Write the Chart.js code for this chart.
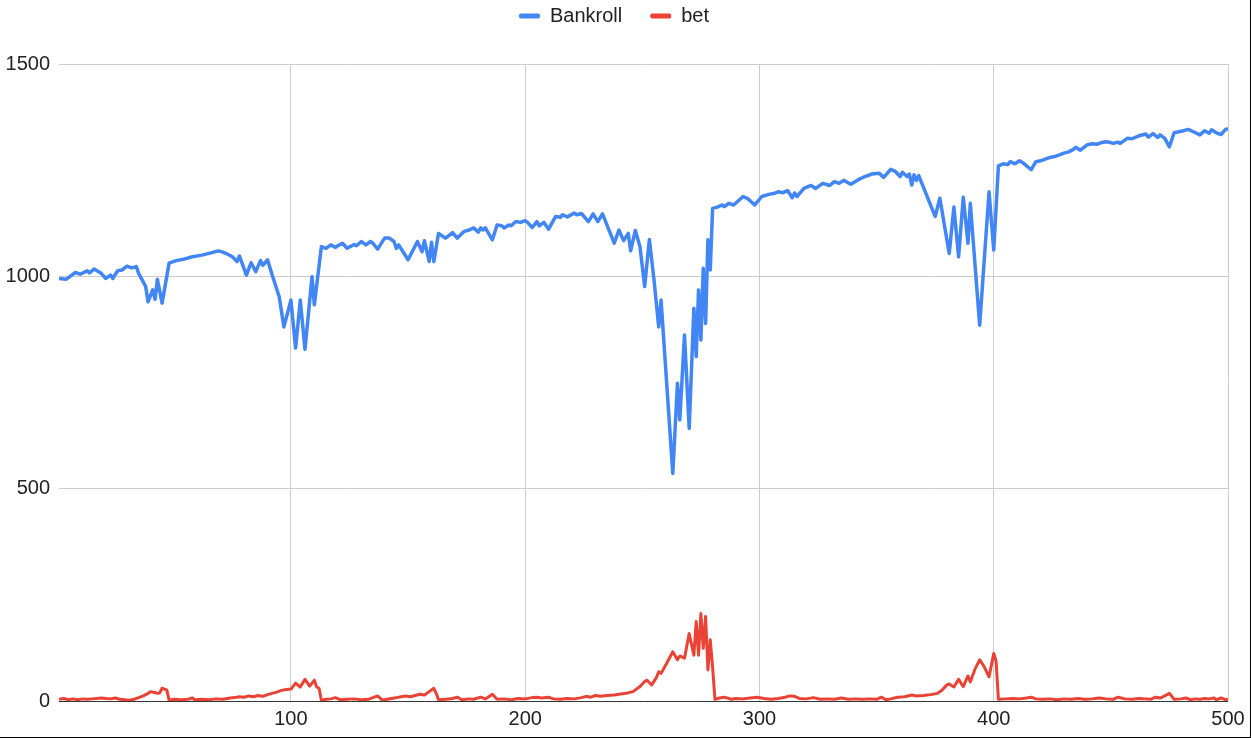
<!DOCTYPE html>
<html>
<head>
<meta charset="utf-8">
<script src="https://cdn.jsdelivr.net/npm/chart.js@4.4.1/dist/chart.umd.min.js"></script>
<style>
  html, body { margin: 0; padding: 0; background: #fff; }
  #wrap { width: 1250px; height: 737px; border-right: 1px solid #000; border-bottom: 1px solid #000; }
  canvas { display: block; }
</style>
</head>
<body>
<div id="wrap"><canvas id="chart" width="1250" height="737"></canvas></div>
<script>
// ---------- data ----------
const seriesNames = ["Bankroll", "bet"];
const xTicks = [100, 200, 300, 400, 500];
const yTicks = [0, 500, 1000, 1500];

const bankX = [
  1, 4, 8, 10, 13, 14, 16, 19, 21, 23,
  24, 26, 28, 30, 32, 34, 35, 38, 39, 41,
  42, 43, 45, 48, 51, 54, 58, 62, 65, 69,
  71, 73, 75, 77, 78, 81, 83, 85, 87, 88,
  90, 92, 95, 97, 100, 102, 104, 106, 109, 110,
  113, 115, 117, 119, 120, 122, 124, 127, 128, 130,
  132, 134, 135, 137, 140, 142, 144, 145, 146, 150,
  154, 156, 157, 159, 160, 161, 163, 166, 169, 171,
  174, 176, 178, 180, 181, 182, 183, 186, 188, 190,
  191, 193, 194, 196, 198, 200, 201, 203, 205, 206,
  208, 210, 213, 215, 216, 218, 221, 222, 224, 227,
  229, 231, 233, 238, 240, 242, 244, 245, 247, 249,
  251, 253, 255, 257, 258, 263, 265, 266, 268, 270,
  272, 273, 274, 275, 276, 277, 278, 279, 280, 282,
  284, 285, 287, 289, 293, 295, 298, 301, 304, 306,
  308, 310, 312, 314, 315, 316, 319, 322, 324, 327,
  330, 332, 334, 336, 339, 342, 345, 348, 351, 353,
  356, 358, 360, 361, 363, 364, 365, 366, 367, 368,
  371, 375, 377, 381, 383, 385, 387, 389, 390, 394,
  398, 400, 402, 404, 406, 407, 409, 411, 413, 416,
  418, 420, 422, 424, 426, 428, 430, 432, 434, 435,
  437, 440, 442, 444, 446, 448, 450, 451, 453, 454,
  457, 459, 462, 465, 466, 468, 470, 471, 473, 475,
  477, 481, 483, 485, 488, 490, 492, 493, 495, 497,
  499, 500
];
const bankY = [
  995, 993, 1009, 1005, 1013, 1008, 1017, 1007, 995, 1003,
  995, 1013, 1015, 1024, 1020, 1023, 1007, 976, 940, 968,
  946, 993, 937, 1031, 1037, 1040, 1046, 1050, 1054, 1060,
  1057, 1052, 1046, 1035, 1048, 1003, 1032, 1011, 1037, 1026,
  1039, 1003, 952, 881, 944, 831, 944, 828, 999, 933,
  1070, 1066, 1074, 1068, 1072, 1078, 1066, 1075, 1072, 1082,
  1074, 1082, 1078, 1064, 1090, 1090, 1082, 1066, 1074, 1039,
  1082, 1058, 1084, 1035, 1080, 1035, 1101, 1090, 1103, 1090,
  1106, 1109, 1114, 1104, 1114, 1109, 1114, 1086, 1121, 1119,
  1114, 1121, 1119, 1129, 1127, 1131, 1127, 1115, 1129, 1119,
  1127, 1111, 1141, 1139, 1145, 1140, 1149, 1145, 1148, 1129,
  1147, 1129, 1147, 1078, 1109, 1084, 1101, 1060, 1108, 1070,
  976, 1087, 991, 881, 944, 536, 748, 662, 862, 642,
  925, 811, 968, 850, 1019, 889, 1086, 1015, 1160, 1163,
  1168, 1164, 1172, 1168, 1188, 1183, 1168, 1188, 1193, 1195,
  1199, 1197, 1202, 1185, 1196, 1188, 1207, 1214, 1207, 1219,
  1214, 1223, 1219, 1226, 1217, 1227, 1235, 1241, 1243, 1233,
  1252, 1247, 1235, 1245, 1235, 1241, 1215, 1239, 1226, 1237,
  1196, 1141, 1184, 1054, 1163, 1046, 1186, 1078, 1172, 885,
  1199, 1062, 1260, 1265, 1263, 1270, 1265, 1272, 1265, 1251,
  1270, 1272, 1276, 1280, 1282, 1286, 1290, 1293, 1299, 1304,
  1297, 1310, 1312, 1311, 1315, 1317, 1315, 1313, 1316, 1313,
  1325, 1324, 1331, 1335, 1328, 1336, 1327, 1333, 1325, 1305,
  1338, 1343, 1346, 1341, 1333, 1343, 1337, 1345, 1338, 1334,
  1346, 1348
];

const betX = [
  1, 3, 5, 7, 9, 11, 13, 15, 17, 19,
  21, 23, 25, 27, 29, 31, 33, 35, 37, 39,
  40, 42, 43, 44, 45, 46, 47, 48, 50, 53,
  56, 58, 59, 62, 65, 68, 71, 74, 76, 78,
  80, 82, 84, 86, 88, 90, 92, 94, 96, 98,
  100, 101, 102, 104, 106, 108, 110, 111, 112, 113,
  115, 117, 119, 121, 124, 127, 130, 133, 135, 137,
  139, 141, 143, 145, 147, 149, 151, 153, 155, 157,
  159, 161, 162, 163, 166, 169, 171, 173, 176, 178,
  181, 183, 186, 188, 191, 194, 197, 200, 203, 205,
  207, 210, 212, 215, 218, 221, 224, 226, 228, 230,
  232, 235, 238, 240, 243, 246, 249, 251, 252, 254,
  256, 257, 258, 260, 263, 265, 266, 268, 270, 272,
  273, 274, 275, 276, 277, 278, 279, 280, 281, 283,
  285, 288, 290, 293, 296, 299, 302, 305, 308, 311,
  313, 315, 317, 320, 323, 326, 329, 332, 335, 338,
  341, 344, 347, 350, 352, 354, 356, 359, 362, 365,
  367, 370, 373, 376, 378, 380, 381, 383, 385, 387,
  389, 390, 392, 394, 396, 398, 400, 401, 402, 405,
  408, 411, 414, 416, 418, 421, 424, 427, 430, 433,
  436, 439, 442, 445, 448, 451, 453, 456, 459, 462,
  465, 467, 469, 471, 473, 475, 477, 480, 482, 484,
  486, 488, 490, 492, 494, 495, 497, 499, 500
];
const betY = [
  4, 6, 3, 5, 3, 5, 4, 5, 6, 7,
  6, 5, 7, 4, 3, 2, 4, 8, 12, 18,
  22, 20, 18, 19, 30, 28, 26, 2, 4, 3,
  4, 7, 3, 4, 3, 5, 4, 7, 8, 10,
  9, 12, 10, 13, 11, 15, 18, 21, 25, 27,
  28, 35, 42, 33, 51, 35, 49, 33, 30, 2,
  4, 5, 8, 3, 4, 5, 3, 4, 8, 12,
  2, 4, 6, 8, 10, 12, 10, 13, 16, 14,
  22, 30, 18, 3, 4, 6, 9, 3, 5, 4,
  9, 5, 16, 4, 5, 3, 6, 5, 8, 9,
  7, 9, 5, 4, 6, 5, 8, 11, 9, 13,
  11, 13, 14, 16, 18, 22, 34, 46, 49, 38,
  55, 69, 65, 85, 116, 97, 106, 101, 159, 108,
  187, 108, 206, 124, 199, 73, 144, 79, 4, 7,
  9, 4, 6, 5, 7, 9, 6, 4, 6, 9,
  12, 11, 6, 5, 8, 4, 5, 4, 7, 4,
  5, 4, 5, 4, 9, 3, 5, 9, 10, 14,
  12, 13, 15, 18, 26, 38, 40, 33, 51, 34,
  59, 45, 75, 97, 80, 57, 112, 94, 4, 5,
  6, 5, 7, 9, 5, 4, 5, 3, 5, 4,
  6, 4, 5, 7, 5, 4, 9, 5, 4, 6,
  5, 4, 9, 7, 12, 18, 4, 5, 7, 3,
  5, 4, 6, 5, 7, 3, 7, 3, 5
];

const blue = "#4285F4";
const red = "#EA4335";
const gridColor = "#cccccc";
const textColor = "#222222";
const font = { family: "'Liberation Sans', Arial, sans-serif", size: 20 };

const toPoints = (xs, ys) => xs.map((x, i) => ({ x, y: ys[i] }));

// legend sits high, so give it extra room below so the plot starts at the right place
const legendSpacer = {
  id: "legendSpacer",
  beforeLayout(chart) {
    const lg = chart.legend;
    if (!lg || lg._spaced) return;
    const fit = lg.fit;
    lg.fit = function () { fit.call(this); this.height += 28; };
    lg._spaced = true;
  }
};

new Chart(document.getElementById("chart").getContext("2d"), {
  type: "line",
  data: {
    datasets: [
      { label: seriesNames[0], data: toPoints(bankX, bankY), borderColor: blue, backgroundColor: blue,
        borderWidth: 3.5, pointRadius: 0, tension: 0, borderJoinStyle: "round" },
      { label: seriesNames[1], data: toPoints(betX, betY), borderColor: red, backgroundColor: red,
        borderWidth: 3, pointRadius: 0, tension: 0, borderJoinStyle: "round" }
    ]
  },
  options: {
    responsive: false,
    animation: false,
    layout: { padding: { top: -22, right: 22, left: 0, bottom: 0 } },
    plugins: {
      tooltip: { enabled: false },
      legend: {
        position: "top",
        labels: {
          font, color: textColor,
          boxWidth: 21, boxHeight: 5, padding: 28,
          useBorderRadius: true, borderRadius: 2,
          generateLabels: (chart) =>
            Chart.defaults.plugins.legend.labels.generateLabels(chart)
              .map(l => ({ ...l, lineWidth: 0, fillStyle: l.strokeStyle }))
        }
      }
    },
    scales: {
      x: {
        type: "linear", min: 1, max: 500,
        afterBuildTicks: s => { s.ticks = xTicks.map(v => ({ value: v })); },
        afterFit: s => { s.height = 36; s.paddingLeft = 0; s.paddingRight = 0; },
        grid: { color: gridColor, lineWidth: 1, drawTicks: false },
        border: { display: false },
        ticks: { font, color: textColor, padding: 6, maxRotation: 0, callback: v => String(v) }
      },
      y: {
        min: 0, max: 1500,
        afterBuildTicks: s => { s.ticks = yTicks.map(v => ({ value: v })); },
        afterFit: s => { s.width = 59; s.paddingTop = 0; s.paddingBottom = 0; },
        grid: { color: c => (c.tick && c.tick.value === 0 ? "#333333" : gridColor), lineWidth: 1, drawTicks: false },
        border: { display: false },
        ticks: { font, color: textColor, padding: 9, callback: v => String(v) }
      }
    }
  },
  plugins: [legendSpacer]
});
</script>
</body>
</html>
